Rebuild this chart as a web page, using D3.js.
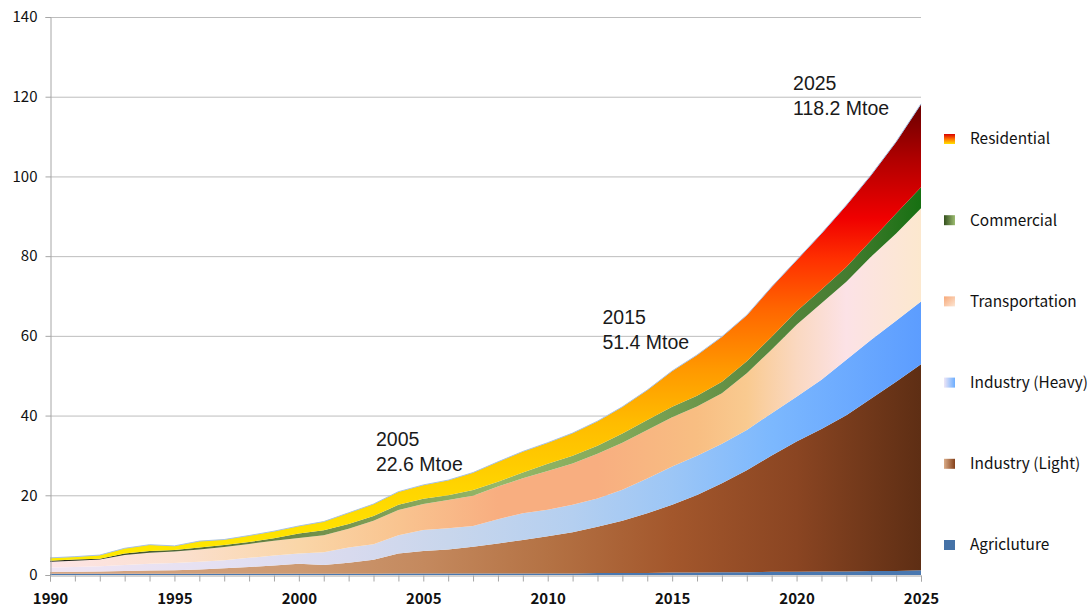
<!DOCTYPE html>
<html>
<head>
<meta charset="utf-8">
<script src="https://cdn.jsdelivr.net/npm/d3@7/dist/d3.min.js"></script>
<style>
  html, body { margin: 0; padding: 0; background: #ffffff; }
  svg { display: block; }
</style>
</head>
<body>
<svg id="chart" width="1089" height="608"></svg>
<script>
// ---------------- DATA ----------------
const years = [1990,1991,1992,1993,1994,1995,1996,1997,1998,1999,
               2000,2001,2002,2003,2004,2005,2006,2007,2008,2009,
               2010,2011,2012,2013,2014,2015,2016,2017,2018,2019,
               2020,2021,2022,2023,2024,2025];

const agriculture = [0.3,0.3,0.3,0.3,0.3,0.3,0.3,0.3,0.3,0.3,
                     0.3,0.3,0.3,0.3,0.4,0.4,0.4,0.4,0.4,0.4,
                     0.4,0.4,0.5,0.5,0.5,0.6,0.6,0.7,0.7,0.8,
                     0.8,0.9,0.9,1.0,1.0,1.2];
const industryLight = [0.5,0.5,0.6,0.7,0.8,0.9,1.1,1.4,1.7,2.1,
                       2.5,2.2,2.8,3.5,5.0,5.6,6.0,6.7,7.5,8.4,
                       9.3,10.3,11.6,13.1,15.0,17.0,19.5,22.3,25.6,29.2,
                       32.7,35.7,39.2,43.3,47.5,51.7];
const industryHeavy = [1.1,1.2,1.3,1.5,1.7,1.8,1.9,2.0,2.3,2.5,
                       2.6,3.2,3.8,3.9,4.6,5.3,5.3,5.2,6.1,6.7,
                       6.7,6.9,7.1,7.8,8.7,9.6,9.8,9.9,10.1,10.6,
                       11.2,12.4,13.9,14.7,15.3,15.7];
const transportation = [1.4,1.6,1.7,2.5,2.8,2.9,3.1,3.3,3.5,3.7,
                        3.9,4.3,4.7,5.9,6.3,6.5,7.1,7.6,8.2,8.8,
                        9.7,10.4,11.2,11.8,12.2,12.4,12.4,12.7,14.2,16.0,
                        18.1,19.2,19.6,20.9,21.9,23.4];
const commercial = [0.3,0.3,0.2,0.4,0.4,0.4,0.5,0.5,0.5,0.6,
                    1.1,1.2,1.2,1.2,1.3,1.3,1.2,1.4,1.2,1.4,
                    1.8,1.9,2.0,2.3,2.5,2.6,2.7,2.9,3.0,3.2,
                    3.4,3.4,3.7,4.1,5.0,5.3];
const residential = [0.7,0.7,0.9,1.3,1.6,1.0,1.6,1.4,1.6,1.8,
                     1.9,2.2,2.8,3.0,3.3,3.5,3.8,4.4,5.0,5.3,
                     5.3,5.7,6.2,6.7,7.5,9.0,10.2,11.3,11.6,12.5,
                     12.8,14.1,15.5,16.4,18.0,20.9];

const seriesKeys = ["Agricluture","Industry (Light)","Industry (Heavy)","Transportation","Commercial","Residential"];
const seriesValues = [agriculture, industryLight, industryHeavy, transportation, commercial, residential];

const yTicks = [0,20,40,60,80,100,120,140];
const xTickLabels = [1990,1995,2000,2005,2010,2015,2020,2025];

const annotationLine1 = ["2005", "2015", "2025"];
const annotationLine2 = ["22.6 Mtoe", "51.4 Mtoe", "118.2 Mtoe"];
const annotationAnchorYear = [2003.1, 2012.2, 2019.86];   // left edge of each label, in year units
const annotationAnchorValue = [32.3, 62.9, 121.6];      // baseline of first line, in value units

(function () {
// ---------------- LAYOUT ----------------
const svg = d3.select("#chart");
const pL = 50, pR = 921, pT = 17, pB = 575;
const x = d3.scaleLinear().domain([1990, 2025]).range([pL, pR]);
const y = d3.scaleLinear().domain([0, 140]).range([pB, pT]);

const table = years.map((yr, i) => {
  const row = {year: yr};
  seriesKeys.forEach((k, j) => row[k] = seriesValues[j][i]);
  return row;
});
const stacked = d3.stack().keys(seriesKeys)(table);

// ---------------- GRADIENTS ----------------
const defs = svg.append("defs");
function linGrad(id, x1, y1, x2, y2, stops, units) {
  const g = defs.append("linearGradient").attr("id", id)
    .attr("x1", x1).attr("y1", y1).attr("x2", x2).attr("y2", y2);
  if (units) g.attr("gradientUnits", units);
  stops.forEach(s => g.append("stop").attr("offset", s[0]).attr("stop-color", s[1]));
  return g;
}
const U = "userSpaceOnUse";
function yearStops(list) { return list.map(d => [(x(d[0]) - pL) / (pR - pL), d[1]]); }

linGrad("gAgri", pL, 0, pR, 0, [[0, "#4A78B0"], [1, "#4A78B0"]], U);
linGrad("gLight", pL, 0, pR, 0, yearStops([
  [1990, "#D6A684"], [2000, "#CD9A72"], [2005, "#C4895E"], [2010, "#B47244"],
  [2015, "#A3572C"], [2020, "#8A4522"], [2025, "#5E2E14"]]), U);
linGrad("gHeavy", pL, 0, pR, 0, yearStops([
  [1990, "#F0E4F2"], [1997, "#E4E0F2"], [2002, "#D8DAEE"], [2006, "#C8D6EC"],
  [2011, "#B4CFF0"], [2015, "#9CC6F6"], [2019, "#7CB8FE"], [2025, "#5C9DFF"]]), U);
linGrad("gTrans", pL, 0, pR, 0, yearStops([
  [1990, "#FDE4E6"], [1995, "#FBE0D0"], [2000, "#FAD6A8"], [2004, "#F9C490"],
  [2008, "#F8AE80"], [2012, "#F8AE80"], [2016, "#F8BE82"], [2018, "#F9CA90"],
  [2020, "#FAD8C0"], [2022, "#FCE2E6"], [2025, "#FCE8CE"]]), U);
linGrad("gComm", pL, 0, pR, 0, yearStops([
  [1990, "#1E2218"], [1992, "#2A3420"], [1994, "#4A5E32"], [2000, "#6E8C48"],
  [2008, "#96B868"], [2013, "#82A858"], [2018, "#5E8C42"], [2022, "#457C30"], [2025, "#177012"]]), U);
linGrad("gRes", 0, y(118), 0, y(4), [
  [0, "#6A0000"], [0.12, "#B00000"], [0.25, "#F00000"], [0.34, "#FF3000"],
  [0.45, "#FF6600"], [0.58, "#FF9800"], [0.70, "#FFBC00"], [0.84, "#FFD400"], [1, "#FFEA00"]], U);

const fills = {
  "Agricluture": "url(#gAgri)",
  "Industry (Light)": "url(#gLight)",
  "Industry (Heavy)": "url(#gHeavy)",
  "Transportation": "url(#gTrans)",
  "Commercial": "url(#gComm)",
  "Residential": "url(#gRes)"
};

linGrad("lRes", 0, 0, 0, 1, [[0, "#D80000"], [0.5, "#FF7000"], [1, "#FFE400"]]);
linGrad("lComm", 0, 0, 1, 0, [[0, "#34501E"], [1, "#9CBC70"]]);
linGrad("lTrans", 0, 0, 1, 1, [[0, "#F7A878"], [1, "#FCE6D4"]]);
linGrad("lHeavy", 0, 0, 1, 0, [[0, "#EEE6F6"], [1, "#6CAEFF"]]);
linGrad("lLight", 0, 0, 1, 0, [[0, "#DAAC88"], [1, "#84401A"]]);
linGrad("lAgri", 0, 0, 1, 0, [[0, "#4572A7"], [1, "#4572A7"]]);
const legendFills = {
  "Residential": "url(#lRes)", "Commercial": "url(#lComm)", "Transportation": "url(#lTrans)",
  "Industry (Heavy)": "url(#lHeavy)", "Industry (Light)": "url(#lLight)", "Agricluture": "url(#lAgri)"
};

// ---------------- GRID ----------------
svg.append("g").selectAll("line").data(yTicks.filter(d => d > 0)).join("line")
  .attr("x1", pL).attr("x2", pR)
  .attr("y1", d => y(d) + 0.5).attr("y2", d => y(d) + 0.5)
  .attr("stroke", "#BDBDBD").attr("stroke-width", 1);

// ---------------- AREAS ----------------
const area = d3.area()
  .x(d => x(d.data.year))
  .y0(d => y(d[0]))
  .y1(d => y(d[1]))
  .curve(d3.curveLinear);

svg.append("g").selectAll("path").data(stacked).join("path")
  .attr("d", area)
  .attr("fill", d => fills[d.key]);

const topLine = d3.line()
  .x(d => x(d.data.year))
  .y(d => y(d[1]));
svg.append("path").datum(stacked[stacked.length - 1])
  .attr("d", topLine).attr("fill", "none")
  .attr("stroke", "#A8C2E6").attr("stroke-width", 1);

// ---------------- AXES ----------------
const yAxis = d3.axisLeft(y).tickValues(yTicks).tickSize(5).tickPadding(8)
  .tickFormat(d3.format("d"));
const gy = svg.append("g").attr("transform", `translate(${pL + 0.5},0)`).call(yAxis);
gy.select(".domain").attr("stroke", "#A6A6A6");
gy.selectAll(".tick line").attr("stroke", "#A6A6A6");
gy.selectAll("text").attr("font-family", "'Noto Sans CJK JP', 'DejaVu Sans', sans-serif")
  .attr("font-size", 15).attr("fill", "#111");

const xAxis = d3.axisBottom(x).tickValues(years).tickSize(6).tickPadding(12)
  .tickFormat(d => xTickLabels.includes(d) ? String(d) : "");
const gx = svg.append("g").attr("transform", `translate(0,${pB + 0.5})`).call(xAxis);
gx.select(".domain").attr("stroke", "#A6A6A6");
gx.selectAll(".tick line").attr("stroke", "#A6A6A6");
gx.selectAll("text").attr("font-family", "'Noto Sans CJK JP', 'DejaVu Sans', sans-serif")
  .attr("font-size", 15).attr("fill", "#111").attr("font-weight", "bold");

// ---------------- ANNOTATIONS ----------------
const ann = svg.append("g").attr("font-family", "'Liberation Sans', Arial, sans-serif")
  .attr("font-size", 19.5).attr("fill", "#1a1a1a");
annotationLine1.forEach((t, i) => {
  const ax = x(annotationAnchorYear[i]);
  const ay = y(annotationAnchorValue[i]);
  ann.append("text").attr("x", ax).attr("y", ay).text(t);
  ann.append("text").attr("x", ax).attr("y", ay + 25).text(annotationLine2[i]);
});

// ---------------- LEGEND ----------------
const legendOrder = ["Residential","Commercial","Transportation","Industry (Heavy)","Industry (Light)","Agricluture"];
const lg = svg.append("g").attr("transform", "translate(944,139)");
legendOrder.forEach((k, i) => {
  const row = lg.append("g").attr("transform", `translate(0,${i * 81.2})`);
  row.append("rect").attr("x", 0).attr("y", -5).attr("width", 11).attr("height", 10)
    .attr("fill", legendFills[k]);
  row.append("text").attr("x", 26).attr("y", 0).attr("dy", "0.35em")
    .attr("font-family", "'Noto Sans CJK JP', 'DejaVu Sans', sans-serif")
    .attr("font-size", 15.4).attr("fill", "#111").text(k);
});
})();
</script>
</body>
</html>
